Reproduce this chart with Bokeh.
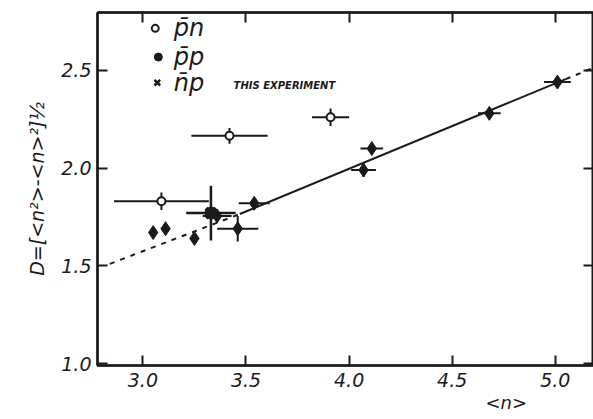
from bokeh.plotting import figure
from bokeh.models import LinearAxis, Label, Range1d, FixedTicker, PrintfTickFormatter, Title
from bokeh.embed import file_html
from bokeh.resources import INLINE
import numpy as np

# p-bar n (open circles)
pn_x = [3.09, 3.42, 3.91]
pn_y = [1.83, 2.165, 2.26]
pn_xerr = [0.23, 0.185, 0.09]
pn_yerr = [0.045, 0.04, 0.045]

# p-bar p (filled diamonds)
pp_x = [3.05, 3.11, 3.25, 3.36, 3.46, 3.54, 4.07, 4.11, 4.68, 5.01]
pp_y = [1.67, 1.69, 1.64, 1.755, 1.69, 1.82, 1.99, 2.10, 2.28, 2.44]
pp_xerr = [0.0, 0.0, 0.0, 0.07, 0.10, 0.075, 0.06, 0.055, 0.055, 0.065]
pp_yerr = [0.0, 0.0, 0.0, 0.0, 0.065, 0.0, 0.035, 0.02, 0.0, 0.02]

# n-bar p (this experiment)
np_x = [3.33]
np_y = [1.77]
np_xerr = [0.12]
np_yerr = [0.14]

# fitted line: dashed extrapolation, solid fit range, dashed extrapolation
fit_lo_x = [2.84, 3.47]
fit_lo_y = [1.51, 1.765]
fit_x = [3.47, 5.05]
fit_y = [1.765, 2.455]
fit_hi_x = [5.05, 5.2]
fit_hi_y = [2.455, 2.52]

x_ticks = [3.0, 3.5, 4.0, 4.5, 5.0]
y_ticks = [1.0, 1.5, 2.0, 2.5]

INK = "#1a1a1a"
FONT = "DejaVu Sans"

p = figure(width=593, height=419, output_backend="svg", toolbar_location=None,
           x_range=Range1d(2.78, 5.185), y_range=Range1d(0.99, 2.796),
           min_border_left=97, min_border_bottom=54, min_border_top=12, min_border_right=0)
p.background_fill_color = "white"
p.border_fill_color = "white"
p.grid.visible = False
p.outline_line_color = INK
p.outline_line_width = 2

for ax in (p.xaxis[0], p.yaxis[0]):
    ax.axis_line_color = INK
    ax.axis_line_width = 2.5
    ax.major_tick_line_color = INK
    ax.major_tick_line_width = 2
    ax.major_tick_in = 10
    ax.major_tick_out = 0
    ax.minor_tick_line_color = None
    ax.major_label_text_font = FONT
    ax.major_label_text_font_style = "italic"
    ax.major_label_text_font_size = "19px"
    ax.major_label_text_color = INK
    ax.formatter = PrintfTickFormatter(format="%.1f")

p.xaxis.ticker = FixedTicker(ticks=x_ticks)
p.yaxis.ticker = FixedTicker(ticks=y_ticks)
p.xaxis.major_label_standoff = 7
p.yaxis.major_label_standoff = 6

p.yaxis.axis_label = "D=[<n²>-<n>²]½"
p.yaxis.axis_label_text_font = FONT
p.yaxis.axis_label_text_font_style = "italic"
p.yaxis.axis_label_text_font_size = "19px"
p.yaxis.axis_label_text_color = INK
p.yaxis.axis_label_standoff = 10

for loc in ("above", "right"):
    ticks = x_ticks if loc == "above" else y_ticks
    ax = LinearAxis(ticker=FixedTicker(ticks=ticks))
    ax.axis_line_color = INK
    ax.axis_line_width = 2.5
    ax.major_tick_line_color = INK
    ax.major_tick_line_width = 2
    ax.major_tick_in = 10
    ax.major_tick_out = 0
    ax.minor_tick_line_color = None
    ax.major_label_overrides = {t: "" for t in ticks}
    ax.major_label_standoff = 0
    p.add_layout(ax, loc)

# fit lines
p.line(fit_lo_x, fit_lo_y, line_color=INK, line_width=2, line_dash="5 6")
p.line(fit_x, fit_y, line_color=INK, line_width=2)
p.line(fit_hi_x, fit_hi_y, line_color=INK, line_width=2, line_dash="5 6")

def errbars(xs, ys, xe, ye, w=2):
    xs = np.array(xs); ys = np.array(ys); xe = np.array(xe); ye = np.array(ye)
    p.segment(xs - xe, ys, xs + xe, ys, line_color=INK, line_width=w)
    p.segment(xs, ys - ye, xs, ys + ye, line_color=INK, line_width=w)

errbars(pn_x, pn_y, pn_xerr, pn_yerr)
errbars(pp_x, pp_y, pp_xerr, pp_yerr)
errbars(np_x, np_y, np_xerr, np_yerr, w=2.5)

p.scatter(pn_x, pn_y, marker="circle", size=8, fill_color="white", line_color=INK, line_width=2)
p.scatter(pp_x, pp_y, marker="diamond", size=14, fill_color=INK, line_color=INK)
p.scatter(np_x, np_y, marker="x", size=14, line_color=INK, line_width=4)
p.scatter(np_x, np_y, marker="circle", size=12, fill_color=INK, line_color=INK)

# legend
leg_x = [3.06, 3.075, 3.07]
leg_y = [2.715, 2.568, 2.437]
p.scatter([leg_x[0]], [leg_y[0]], marker="circle", size=7, fill_color="white", line_color=INK, line_width=2)
p.scatter([leg_x[1]], [leg_y[1]], marker="circle", size=8, fill_color=INK, line_color=INK)
p.scatter([leg_x[2]], [leg_y[2]], marker="x", size=8, line_color=INK, line_width=2.5)
for t, yy in zip(["p̄n", "p̄p", "n̄p"], leg_y):
    p.add_layout(Label(x=3.15, y=yy, text=t, text_font=FONT, text_font_style="italic",
                       text_font_size="24px", text_color=INK, text_baseline="middle"))
p.add_layout(Label(x=3.44, y=2.425, text="THIS EXPERIMENT", text_font=FONT,
                   text_font_style="bold italic", text_font_size="10px", text_color=INK,
                   text_baseline="middle"))

# x axis label (placed to the right under the axis)
xlab = Title(text="<n>", align="left", offset=388, text_font=FONT, text_font_style="italic",
             text_font_size="18px", text_color=INK, standoff=0)
p.add_layout(xlab, "below")

open("out.html", "w").write(file_html(p, INLINE))
